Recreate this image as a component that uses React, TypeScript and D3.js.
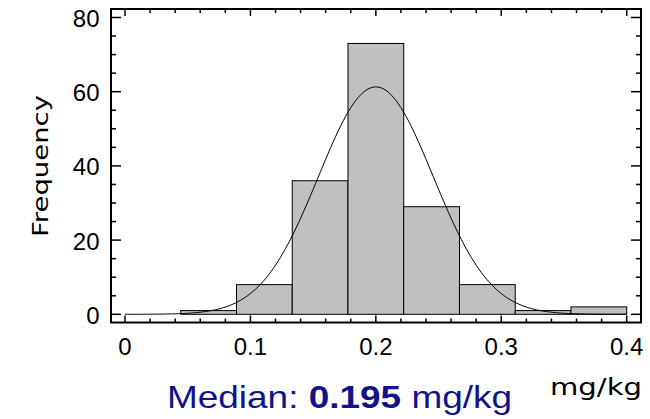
import React from "react";
import * as d3 from "d3";

// Histogram data
const binMin = 0;
const binMax = 0.4;
const counts = [0, 1, 8, 36, 73, 29, 8, 1, 2];
// Fitted normal curve parameters
const fitMean = 0.2;
const fitSd = 0.0457;
// Axes
const xMajorTicks = [0, 0.1, 0.2, 0.3, 0.4];
const xTickLabels = ["0", "0.1", "0.2", "0.3", "0.4"];
const yMajorTicks = [0, 20, 40, 60, 80];
const xMinorStep = 0.02;
const yMinorStep = 5;
const unitLabel = "mg/kg";
const yTitle = "Frequency";
const medianValue = "0.195";

const W = 650;
const H = 419;
const frame = { left: 111, right: 641, top: 9, bottom: 322.5 };

export default function App() {
  const x = d3.scaleLinear().domain([0, 0.4]).range([125, 626.7]);
  const y = d3.scaleLinear().domain([0, 80]).range([314.3, 17.5]);

  const binW = (binMax - binMin) / counts.length;
  const N = d3.sum(counts);

  const curvePts: [number, number][] = d3.range(0, 201).map((i) => {
    const v = binMin + ((binMax - binMin) * i) / 200;
    const pdf =
      Math.exp(-0.5 * ((v - fitMean) / fitSd) ** 2) /
      (fitSd * Math.sqrt(2 * Math.PI));
    return [v, N * binW * pdf];
  });
  const line = d3
    .line<[number, number]>()
    .x((d) => x(d[0]))
    .y((d) => y(d[1]))
    .curve(d3.curveLinear);

  const xMinor = d3.range(0, 0.4 + 1e-9, xMinorStep);
  const yMinor = d3.range(0, 80 + 1e-9, yMinorStep);
  const isMajorX = (v: number) => xMajorTicks.some((t) => Math.abs(t - v) < 1e-9);
  const isMajorY = (v: number) => yMajorTicks.some((t) => Math.abs(t - v) < 1e-9);

  const tickFont = "'Liberation Sans', Arial, sans-serif";
  const titleFont = "'DejaVu Sans', sans-serif";

  return (
    <svg width={W} height={H} style={{ position: "absolute", left: 0, top: 0 }}>
      <rect x={0} y={0} width={W} height={H} fill="white" />
      {/* bars */}
      {counts.map((c, i) => {
        const x0 = x(binMin + i * binW);
        const x1 = x(binMin + (i + 1) * binW);
        return (
          <rect
            key={i}
            x={x0}
            y={y(c)}
            width={x1 - x0}
            height={y(0) - y(c)}
            fill="#c0c0c0"
            stroke="#000"
            strokeWidth={1}
          />
        );
      })}
      {/* fitted curve */}
      <path d={line(curvePts) || ""} fill="none" stroke="#000" strokeWidth={1} />
      {/* ticks */}
      {xMinor.map((v, i) => {
        const len = isMajorX(v) ? 7 : 4;
        const px = x(v);
        return (
          <g key={"xt" + i} stroke="#000" strokeWidth={1.5}>
            <line x1={px} x2={px} y1={frame.bottom} y2={frame.bottom - len} />
            <line x1={px} x2={px} y1={frame.top} y2={frame.top + len} />
          </g>
        );
      })}
      {yMinor.map((v, i) => {
        const len = isMajorY(v) ? 10 : 5;
        const py = y(v);
        return (
          <g key={"yt" + i} stroke="#000" strokeWidth={1.5}>
            <line x1={frame.left} x2={frame.left + len} y1={py} y2={py} />
            <line x1={frame.right} x2={frame.right - len} y1={py} y2={py} />
          </g>
        );
      })}
      {/* frame */}
      <rect
        x={frame.left}
        y={frame.top}
        width={frame.right - frame.left}
        height={frame.bottom - frame.top}
        fill="none"
        stroke="#000"
        strokeWidth={2}
      />
      {/* tick labels */}
      {xMajorTicks.map((v, i) => (
        <text
          key={"xl" + i}
          x={x(v)}
          y={355}
          textAnchor="middle"
          fontFamily={tickFont}
          fontSize={24}
          fill="#000"
        >
          {xTickLabels[i]}
        </text>
      ))}
      {yMajorTicks.map((v, i) => (
        <text
          key={"yl" + i}
          x={99.5}
          y={y(v) + 9.5}
          textAnchor="end"
          fontFamily={tickFont}
          fontSize={24}
          fill="#000"
        >
          {v}
        </text>
      ))}
      {/* y title */}
      <text
        transform={`translate(48,166) rotate(-90)`}
        textAnchor="middle"
        fontFamily={titleFont}
        fontSize={22}
        textLength={142}
        lengthAdjust="spacingAndGlyphs"
        fill="#000"
      >
        {yTitle}
      </text>
      {/* unit label */}
      <text
        x={550}
        y={395}
        fontFamily={titleFont}
        fontSize={23}
        textLength={92}
        lengthAdjust="spacingAndGlyphs"
        fill="#000"
      >
        {unitLabel}
      </text>
      {/* median */}
      <text
        transform="translate(167,408) scale(1.155,1)"
        fontFamily="'Liberation Sans', Arial, sans-serif"
        fontSize={32}
        fill="#12128a"
      >
        Median: <tspan fontWeight="bold">{medianValue}</tspan> mg/kg
      </text>
    </svg>
  );
}
